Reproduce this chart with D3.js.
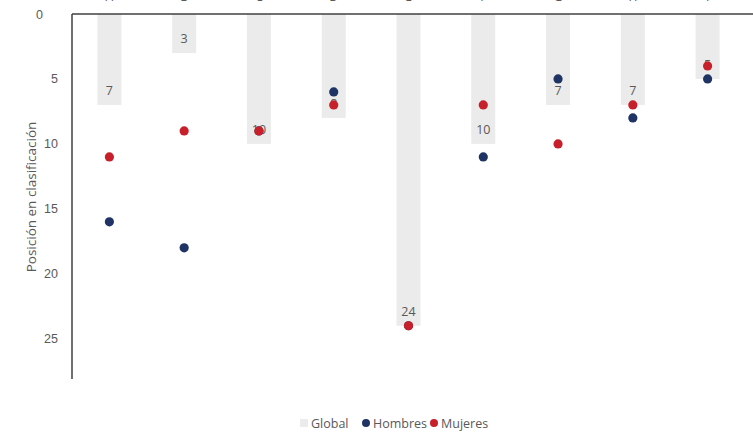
<!DOCTYPE html>
<html>
<head>
<meta charset="utf-8">
<script src="https://cdn.jsdelivr.net/npm/d3@7"></script>
<style>
  body { margin: 0; background: #fff; }
  svg { display: block; font-family: "Open Sans", "Noto Sans", sans-serif; }
  .tick text { fill: #595959; font-size: 12.5px; }
</style>
</head>
<body>
<svg width="753" height="433"></svg>
<script>
// categories (names are cut off at the top of the original picture)
let categories = ["A", "B", "C", "D", "E", "F", "G", "H", "I"];
let globalValues = [7, 3, 10, 8, 24, 10, 7, 7, 5];
let hombresValues = [16, 18, 9, 6, 24, 11, 5, 8, 5];
let mujeresValues = [11, 9, 9, 7, 24, 7, 10, 7, 4];
let yTicks = [0, 5, 10, 15, 20, 25];

let svg = d3.select("svg"),
    plotLeft = 72, plotRight = 745, plotTop = 14, plotBottom = 379;

let x = d3.scaleBand().domain(categories).range([plotLeft, plotRight]);
let y = d3.scaleLinear().domain([0, 28.1]).range([plotTop, plotBottom]);
let barW = 24;
let navy = "#1f3464", red = "#c8202b", grey = "#595959";

let cx = (c) => x(c) + x.bandwidth() / 2;

// bars for the global position
svg.append("g").selectAll("rect")
    .data(categories)
    .enter().append("rect")
    .attr("x", (c) => cx(c) - barW / 2)
    .attr("y", y(0))
    .attr("width", barW)
    .attr("height", (c, i) => y(globalValues[i]) - y(0))
    .attr("fill", "#ebebeb");

// value labels inside the bars
svg.append("g").selectAll("text")
    .data(categories)
    .enter().append("text")
    .attr("x", cx)
    .attr("y", (c, i) => y(globalValues[i]) - 10)
    .attr("text-anchor", "middle")
    .attr("fill", grey)
    .style("font-size", "12.5px")
    .text((c, i) => globalValues[i]);

// category labels, mostly above the visible area
svg.append("g").selectAll("text")
    .data(categories)
    .enter().append("text")
    .attr("x", cx)
    .attr("y", 1)
    .attr("text-anchor", "middle")
    .attr("fill", grey)
    .style("font-size", "12px")
    .text((c) => c);

// dots
function dots(values, color) {
    svg.append("g").selectAll("circle")
        .data(categories)
        .enter().append("circle")
        .attr("cx", cx)
        .attr("cy", (c, i) => y(values[i]))
        .attr("r", 4.6)
        .attr("fill", color);
}
dots(hombresValues, navy);
dots(mujeresValues, red);

// axes
let yAxis = svg.append("g")
    .attr("transform", "translate(" + plotLeft + ",0)")
    .call(d3.axisLeft(y).tickValues(yTicks).tickSize(0).tickPadding(14));
yAxis.select(".domain").remove();
yAxis.selectAll(".tick text").style("font-family", "inherit")
    .attr("dx", (d) => d === 0 ? -15 : 0);

svg.append("line")
    .attr("x1", plotLeft).attr("x2", plotLeft)
    .attr("y1", y(0)).attr("y2", plotBottom)
    .attr("stroke", "#404040").attr("stroke-width", 1.5);
svg.append("line")
    .attr("x1", plotLeft).attr("x2", 753)
    .attr("y1", y(0)).attr("y2", y(0))
    .attr("stroke", "#404040").attr("stroke-width", 1.5);

// axis title
svg.append("text")
    .attr("transform", "translate(36,197) rotate(-90)")
    .attr("text-anchor", "middle")
    .attr("fill", grey)
    .style("font-size", "13.5px")
    .text("Posición en clasificación");

// legend
let legend = svg.append("g").attr("transform", "translate(0,423)");
legend.append("rect").attr("x", 300).attr("y", -4).attr("width", 8).attr("height", 8).attr("fill", "#ebebeb");
legend.append("text").attr("x", 311).attr("y", 4.5).text("Global");
legend.append("circle").attr("cx", 366).attr("cy", 0).attr("r", 4).attr("fill", navy);
legend.append("text").attr("x", 373).attr("y", 4.5).text("Hombres");
legend.append("circle").attr("cx", 434).attr("cy", 0).attr("r", 4).attr("fill", red);
legend.append("text").attr("x", 441).attr("y", 4.5).text("Mujeres");
legend.selectAll("text").attr("fill", grey).style("font-size", "12.5px");
</script>
</body>
</html>
